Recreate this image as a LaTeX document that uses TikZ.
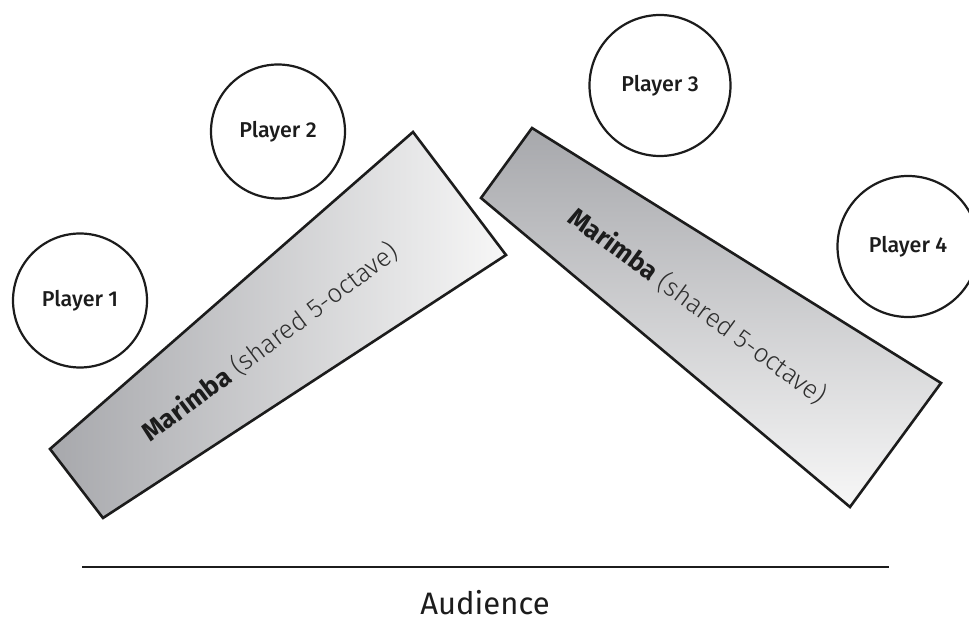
\documentclass[tikz,border=0pt]{standalone}
\usepackage{fontspec}
\setmainfont{Fira Sans}
\IfFontExistsTF{Fira Sans Light}{\newfontfamily\lightfont{Fira Sans Light}}{\newcommand\lightfont{}}
\IfFontExistsTF{Fira Sans Medium}{\newfontfamily\medfont{Fira Sans Medium}}{\newcommand\medfont{}}
\definecolor{mdark}{HTML}{A7A8AC}
\definecolor{mlight}{HTML}{F7F7F7}
\definecolor{ink}{HTML}{1C1C1C}
\definecolor{soft}{HTML}{2E2E2E}
\begin{document}
\begin{tikzpicture}[x=1pt,y=-1pt,
  player/.style={circle,draw=ink,line width=2.2pt,inner sep=0pt,text=ink,
    font=\medfont\fontsize{21.5}{24}\selectfont},
  marimba/.style={draw=ink,line width=2.6pt,line join=miter},
  mlabel/.style={font=\fontsize{26}{30}\selectfont,text=ink,inner sep=0pt}]
\useasboundingbox (0,0) rectangle (969,617);
% marimbas
\path[marimba,left color=mdark,right color=mlight]
  (50,449) -- (413,132) -- (506,255) -- (103,518) -- cycle;
\path[marimba,top color=mdark,bottom color=mlight]
  (481,198) -- (532,128) -- (941,383) -- (850,507) -- cycle;
\node[mlabel,rotate=36.8] (m1) at (270,342)
  {\textbf{Marimba} {\lightfont\color{soft}(shared 5-octave)}};
\node[mlabel,rotate=-36.2] (m2) at (698,306)
  {\textbf{Marimba} {\lightfont\color{soft}(shared 5-octave)}};
% players
\node[player,minimum size=134pt] (p1) at (80,300.5) {Player 1};
\node[player,minimum size=134pt] (p2) at (278,131.5) {Player 2};
\node[player,minimum size=141pt] (p3) at (660,85.5) {Player 3};
\node[player,minimum size=141pt] (p4) at (908,246.5) {Player 4};
% audience
\coordinate (la) at (82,567);
\coordinate (lb) at (889,567);
\draw[draw=ink,line width=2.6pt] (la) -- (lb);
\node[font=\fontsize{31}{36}\selectfont,text=ink,anchor=base,inner sep=0pt] (aud) at (485,614) {Audience};
\end{tikzpicture}
\end{document}
